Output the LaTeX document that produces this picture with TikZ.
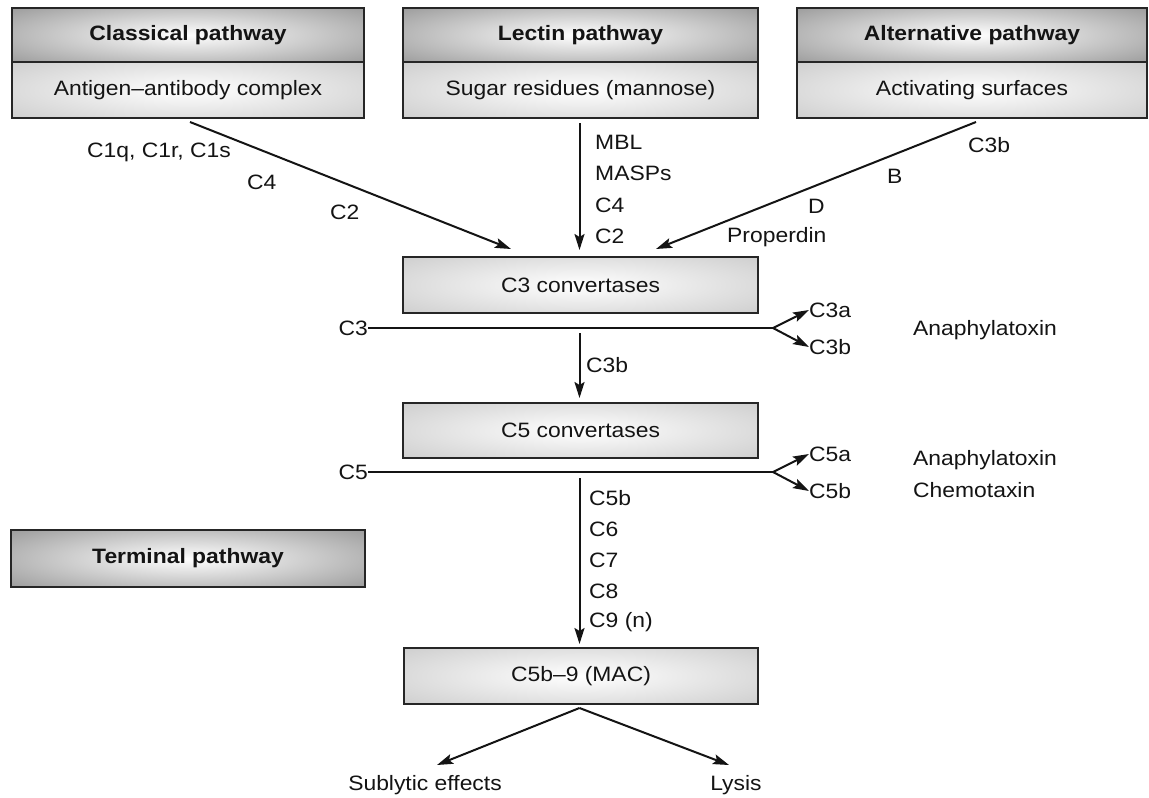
\documentclass[tikz,border=0pt]{standalone}
\usepackage{fontspec}
\setmainfont[FakeStretch=1.1]{Liberation Sans}
\usetikzlibrary{arrows.meta}
\begin{document}
\begin{tikzpicture}[x=1pt,y=-1pt,
  every node/.style={font=\fontsize{20.8}{23}\selectfont, text=black!92},
  boxbase/.style={draw=black!85, line width=1.6pt, rectangle, inner sep=0pt},
  hdr/.style={boxbase, fill=black!46, font=\fontsize{20.8}{23}\selectfont\bfseries,
    path picture={\shade[inner color=white, outer color=black!46]
      (path picture bounding box.center) ellipse [x radius=0.8*\pgfkeysvalueof{/pgf/minimum width}, y radius=0.9*\pgfkeysvalueof{/pgf/minimum height}];}},
  sub/.style={boxbase, fill=black!24,
    path picture={\shade[inner color=white, outer color=black!24]
      (path picture bounding box.center) ellipse [x radius=0.85*\pgfkeysvalueof{/pgf/minimum width}, y radius=0.95*\pgfkeysvalueof{/pgf/minimum height}];}},
  lbl/.style={inner sep=0pt, anchor=west},
  lblr/.style={inner sep=0pt, anchor=east},
  arr/.style={line width=2pt, draw=black!92, -{Stealth[length=16pt,width=10pt,inset=3pt]}},
  ln/.style={line width=2pt, draw=black!92}
]
\useasboundingbox (0,0) rectangle (1149,798);
\fill[white] (0,0) rectangle (1149,798);

% pathway boxes
\node[hdr, minimum width=352pt, minimum height=54pt] (clsh) at (188,35) {Classical pathway};
\node[sub, minimum width=352pt, minimum height=56pt] (clss) at (188,90) {Antigen–antibody complex};
\node[hdr, minimum width=355pt, minimum height=54pt] (lech) at (580.5,35) {Lectin pathway};
\node[sub, minimum width=355pt, minimum height=56pt] (lecs) at (580.5,90) {Sugar residues (mannose)};
\node[hdr, minimum width=350pt, minimum height=54pt] (alth) at (972,35) {Alternative pathway};
\node[sub, minimum width=350pt, minimum height=56pt] (alts) at (972,90) {Activating surfaces};

% convertases
\node[sub, minimum width=355pt, minimum height=56pt] (c3c) at (580.5,285) {C3 convertases};
\node[sub, minimum width=355pt, minimum height=55pt] (c5c) at (580.5,430.5) {C5 convertases};
\node[hdr, minimum width=354pt, minimum height=57pt] (term) at (188,558.5) {Terminal pathway};
\node[sub, minimum width=354pt, minimum height=56pt] (mac) at (581,676) {C5b–9 (MAC)};

% coordinates
\coordinate (clsout) at (190,122);
\coordinate (lecout) at (579.5,123);
\coordinate (altout) at (976,122);
\coordinate (inA) at (511,249);
\coordinate (inB) at (579.5,250);
\coordinate (inC) at (656,249);

\draw[arr] (clsout) -- (inA);
\draw[arr] (lecout) -- (inB);
\draw[arr] (altout) -- (inC);

% classical labels
\node[lbl] (l1) at (87,152) {C1q, C1r, C1s};
\node[lbl] (l2) at (247,182) {C4};
\node[lbl] (l3) at (330,212) {C2};
% lectin labels
\node[lbl] (m1) at (595,142) {MBL};
\node[lbl] (m2) at (595,173) {MASPs};
\node[lbl] (m3) at (595,205) {C4};
\node[lbl] (m4) at (595,236) {C2};
% alternative labels
\node[lbl] (a1) at (968,145) {C3b};
\node[lbl] (a2) at (887,176) {B};
\node[lbl] (a3) at (808,206) {D};
\node[lbl] (a4) at (727,237) {Properdin};

% C3 cleavage
\node[lblr] (c3) at (368,328) {C3};
\coordinate (c3split) at (773,328);
\draw[ln] (c3.east) -- (c3split);
\node[lbl] (c3a) at (809,310) {C3a};
\node[lbl] (c3b) at (809,347) {C3b};
\draw[arr] (c3split) -- (c3a.west);
\draw[arr] (c3split) -- (c3b.west);
\node[lbl] (ana1) at (913,330) {Anaphylatoxin};

\coordinate (c3bs) at (579.5,333);
\coordinate (c3be) at (579.5,398);
\draw[arr] (c3bs) -- (c3be);
\node[lbl] (c3bl) at (586,365) {C3b};

% C5 cleavage
\node[lblr] (c5) at (368,472) {C5};
\coordinate (c5split) at (773,472);
\draw[ln] (c5.east) -- (c5split);
\node[lbl] (c5a) at (809,454) {C5a};
\node[lbl] (c5b) at (809,491) {C5b};
\draw[arr] (c5split) -- (c5a.west);
\draw[arr] (c5split) -- (c5b.west);
\node[lbl] (ana2) at (913,460) {Anaphylatoxin};
\node[lbl] (chem) at (913,490) {Chemotaxin};

\coordinate (c5bs) at (579.5,478);
\coordinate (c5be) at (579.5,644);
\draw[arr] (c5bs) -- (c5be);
\node[lbl] (t1) at (589,498) {C5b};
\node[lbl] (t2) at (589,529) {C6};
\node[lbl] (t3) at (589,560) {C7};
\node[lbl] (t4) at (589,591) {C8};
\node[lbl] (t5) at (589,622) {C9 (n)};

% MAC outcomes
\coordinate (macsplit) at (579.5,708);
\node[inner sep=0pt] (sub1) at (425,785) {Sublytic effects};
\node[inner sep=0pt] (lys) at (736,785) {Lysis};
\coordinate (subin) at (437,765);
\coordinate (lysin) at (729,765);
\draw[arr] (macsplit) -- (subin);
\draw[arr] (macsplit) -- (lysin);
\end{tikzpicture}
\end{document}
